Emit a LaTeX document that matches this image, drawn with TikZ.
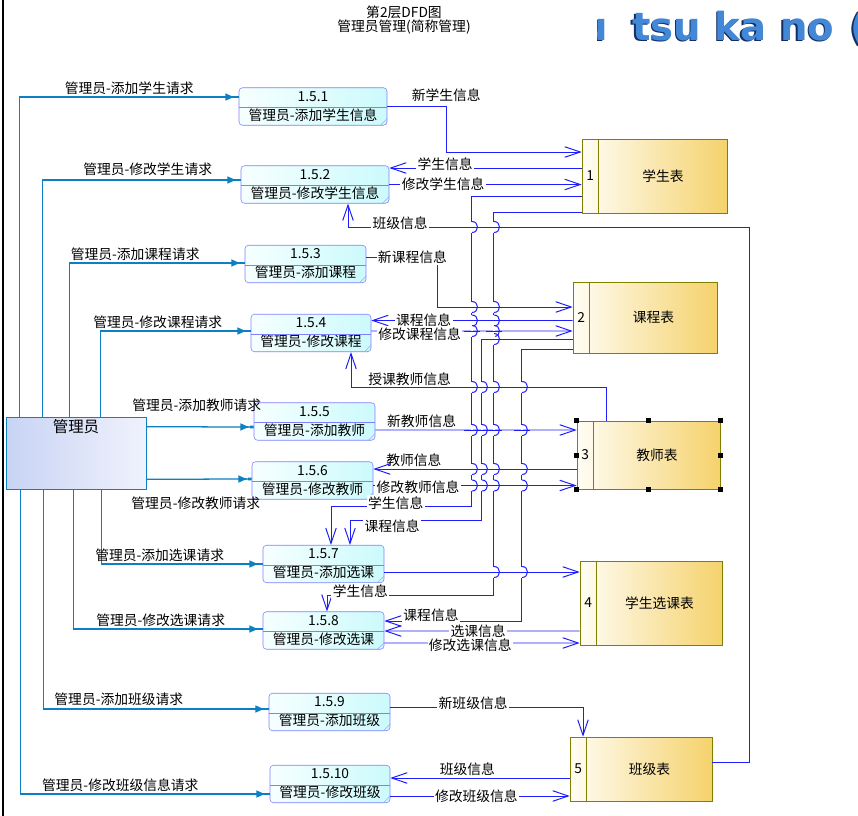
\documentclass[tikz,border=0pt]{standalone}
\usepackage{fontspec}
\setmainfont{Noto Sans CJK SC}
\newfontfamily\wmfont{DejaVu Sans}
\usetikzlibrary{arrows.meta, calc}

\definecolor{flowblue}{RGB}{30,30,250}
\definecolor{reqblue}{RGB}{12,128,194}
\definecolor{procedge}{RGB}{128,128,255}
\definecolor{proclight}{RGB}{246,255,255}
\definecolor{procdark}{RGB}{204,250,252}
\definecolor{storeedge}{RGB}{128,128,0}
\definecolor{storelight}{RGB}{255,253,244}
\definecolor{storedark}{RGB}{245,210,108}
\definecolor{admlight}{RGB}{240,242,253}
\definecolor{admdark}{RGB}{200,212,244}
\definecolor{wmblue}{RGB}{66,136,214}
\definecolor{wmshadow}{RGB}{20,45,100}

\begin{document}
\begin{tikzpicture}[x=0.025cm, y=-0.025cm,
    every node/.style={font=\fontsize{9.8pt}{11pt}\selectfont, inner sep=1pt},
    proc/.style={draw=procedge, rounded corners=2.5pt, left color=proclight, right color=procdark,
        align=center, font=\fontsize{9.8pt}{13.5pt}\selectfont, inner sep=0pt},
    store/.style={draw=storeedge, left color=storelight, right color=storedark, inner sep=0pt},
    entity/.style={draw=reqblue, left color=admdark, right color=admlight, inner sep=0pt},
    req/.style={draw=reqblue, line width=0.9pt,
        -{Latex[length=7pt,width=5.5pt]Rectangle[length=2.5pt,width=2pt]}},
    flow/.style={draw=flowblue, line width=0.7pt, -{Straight Barb[length=11pt,width=7.5pt]}},
    flowline/.style={draw=flowblue, line width=0.7pt},
    lbl/.style={fill=white, inner sep=1pt},
    wm/.style={font=\wmfont\fontsize{27.5pt}{30pt}\bfseries\selectfont, inner sep=0pt, anchor=base west},
]
\useasboundingbox (0,0) rectangle (858,816);

% frame and title
\draw[black, line width=0.8pt] (3,0) -- (3,816);
\node[align=center, font=\fontsize{9.8pt}{10pt}\selectfont] (title) at (404,20) {第2层DFD图\\管理员管理(简称管理)};

% word art
\begin{scope}
    \clip (597,0) rectangle (858,60);
    \node[wm, anchor=base east, text=wmshadow] (wmu0) at (606.5,41.5) {u};
    \node[wm, anchor=base east, text=wmblue] (wmu1) at (608,40) {u};
    \node[wm, text=wmshadow] (wm0) at (630.5,41.5) {tsu ka no};
    \node[wm, text=wmblue] (wm1) at (632,40) {tsu ka no};
    \node[wm, text=wmshadow] (wmp0) at (848.5,41.5) {(};
    \node[wm, text=wmblue] (wmp1) at (850,40) {(};
\end{scope}

% processes
\foreach \n/\x/\y/\w/\num/\txt in {
    1/313/106.5/148/1.5.1/管理员-添加学生信息,
    2/315/184.5/148/1.5.2/管理员-修改学生信息,
    3/305.5/264/121/1.5.3/管理员-添加课程,
    4/311/333/120/1.5.4/管理员-修改课程,
    5/314.5/421.5/121/1.5.5/管理员-添加教师,
    6/312.5/480.5/121/1.5.6/管理员-修改教师,
    7/323.5/564/121/1.5.7/管理员-添加选课,
    8/323.5/630.5/121/1.5.8/管理员-修改选课,
    9/329.5/712/121/1.5.9/管理员-添加班级,
    10/330/784/120/1.5.10/管理员-修改班级} {
    \node[proc, minimum width=\w*0.025cm, minimum height=37.5*0.025cm] (p\n) at (\x,\y) {\num\\\txt};
    \draw[procedge] ($(p\n.north west)!0.53!(p\n.south west)$) -- ($(p\n.north east)!0.53!(p\n.south east)$);
    \draw[procedge!70] ($(p\n.south east)+(-7,0)$) -- ($(p\n.south east)+(0,-7)$);
}

% data stores
\foreach \n/\x/\y/\w/\h/\txt in {
    1/654.5/176/145/74/学生表,
    2/645/317.5/144/71/课程表,
    3/648.5/455/143/68/教师表,
    4/651/603/142/84/学生选课表,
    5/641/769/142/64/班级表} {
    \node[store, minimum width=\w*0.025cm, minimum height=\h*0.025cm] (s\n) at (\x,\y) {};
    \draw[storeedge] ($(s\n.north west)+(17,0)$) -- ($(s\n.south west)+(17,0)$);
    \node (s\n-num) at ($(s\n.west)+(8.5,0)$) {\n};
    \node (s\n-txt) at ($(s\n.center)+(8.5,0)$) {\txt};
}
\foreach \a in {north west, north, north east, west, east, south west, south, south east}
    \fill[black] ($(s3.\a)+(-2.5,-2.5)$) rectangle ($(s3.\a)+(2.5,2.5)$);

% external entity
\node[entity, minimum width=140*0.025cm, minimum height=72*0.025cm] (adm) at (76,453) {};
\node[font=\fontsize{11pt}{12pt}\selectfont] (admtxt) at ($(adm.north)+(0,10)$) {管理员};

% requests
\draw[req] ($(adm.north west)+(14,0)$) |- node[pos=0.75, above] (r1) {管理员-添加学生请求} ($(p1.west)+(0,-9.5)$);
\draw[req] ($(adm.north west)+(37,0)$) |- node[pos=0.765, above, yshift=1.5pt] (r2) {管理员-修改学生请求} ($(p2.west)+(0,-4.5)$);
\draw[req] ($(adm.north west)+(64,0)$) |- node[pos=0.687, above] (r3) {管理员-添加课程请求} ($(p3.west)+(0,-1)$);
\draw[req] ($(adm.north west)+(95,0)$) |- node[pos=0.69, above] (r4) {管理员-修改课程请求} ($(p4.west)+(0,-2)$);
\draw[req] ($(adm.north east)+(0,10)$) -- node[pos=0.47, above, yshift=9.5pt] (r5) {管理员-添加教师请求} ($(p5.west)+(0,5.5)$);
\draw[req] ($(adm.south east)+(0,-10)$) -- node[pos=0.47, below, yshift=-11pt] (r6) {管理员-修改教师请求} ($(p6.west)+(0,-1.5)$);
\draw[req] ($(adm.south west)+(96,0)$) |- node[pos=0.68, above] (r7) {管理员-添加选课请求} (p7.west);
\draw[req] ($(adm.south west)+(68,0)$) |- node[pos=0.73, above] (r8) {管理员-修改选课请求} ($(p8.west)+(0,-1.5)$);
\draw[req] ($(adm.south west)+(38,0)$) |- node[pos=0.667, above, yshift=1pt] (r9) {管理员-添加班级请求} ($(p9.west)+(0,-3)$);
\draw[req] ($(adm.south west)+(15,0)$) |- node[pos=0.70, above] (r10) {管理员-修改班级信息请求} ($(p10.west)+(0,10)$);

% data flows
\draw[flow] (p1.east) -- node[pos=1, above, yshift=2pt] (f1) {新学生信息} ++(59,0) |- ($(s1.west)+(0,-24)$);
\draw[flow] ($(s1.west)+(0,-8)$) -- node[lbl, pos=0.71, yshift=2.5pt] (f2) {学生信息} ($(p2.east)+(0,-16.5)$);
\draw[flow] (p2.east) -- node[lbl, pos=0.28] (f3) {修改学生信息} ($(s1.west)+(0,8.5)$);
\draw[flow] ($(s5.east)+(0,-7)$) -- ++(37,0) |- node[lbl, pos=0.935, yshift=3pt] (f4) {班级信息} ($(p2.south)+(33,24)$) -- ($(p2.south)+(33,0)$);
\draw[flow] ($(p3.east)+(0,-7)$) -- node[lbl, pos=0.65] (f5) {新课程信息} ++(71,0) |- ($(s2.west)+(0,-10.5)$);
\draw[flow] ($(s2.west)+(0,3)$) -- node[lbl, pos=0.74] (f6) {课程信息} ($(p4.east)+(0,-12.5)$);
\draw[flow] ($(p4.east)+(0,-2)$) -- node[lbl, pos=0.24, yshift=-2pt] (f7) {修改课程信息} ($(s2.west)+(0,13.5)$);
\draw[flow] ($(s1.west)+(0,20)$) -- ++(-110,0) |- node[lbl, pos=0.77, yshift=3pt] (f8) {学生信息} ($(p7.north)+(7.5,-38)$) -- ($(p7.north)+(7.5,0)$);
\draw[flow] ($(s1.west)+(0,36)$) -- ++(-88,0) |- node[lbl, pos=0.9, yshift=3pt] (f9) {学生信息} ($(p8.north)+(3.5,-16)$) -- ($(p8.north)+(3.5,0)$);
\draw[flow] ($(s2.west)+(0,21.5)$) -- ++(-91,0) |- node[lbl, pos=0.84, yshift=-4pt] (f10) {课程信息} ($(p7.north)+(26.5,-24)$) -- ($(p7.north)+(26.5,0)$);
\draw[flow] ($(s2.west)+(0,31.5)$) -- ++(-51,0) |- node[lbl, pos=0.83, yshift=4pt] (f11) {课程信息} ($(p8.east)+(0,-9.5)$);
\draw[flow] ($(s3.north)+(-42.5,0)$) |- node[lbl, pos=0.885, yshift=5.5pt] (f12) {授课教师信息} ($(p4.south)+(40,35)$) -- ($(p4.south)+(40,0)$);
\draw[flow] ($(p5.east)+(0,8.5)$) -- node[above, pos=0.23] (f13) {新教师信息} ($(s3.west)+(0,-25)$);
\draw[flow] ($(s3.west)+(0,14)$) -- node[above, pos=0.8] (f14) {教师信息} ($(p6.east)+(0,-11.5)$);
\draw[flow] ($(p6.east)+(0,5)$) -- node[lbl, pos=0.22, yshift=-1.5pt] (f15) {修改教师信息} ($(s3.west)+(0,30.5)$);
\draw[flow] ($(p7.east)+(0,8)$) -- ($(s4.west)+(0,-31)$);
\draw[flow] ($(s4.west)+(0,28)$) -- node[lbl, pos=0.52] (f17) {选课信息} ($(p8.east)+(0,0.5)$);
\draw[flow] ($(p8.east)+(0,12.5)$) -- node[lbl, pos=0.44, yshift=-1.5pt] (f18) {修改选课信息} ($(s4.west)+(0,40)$);
\draw[flow] ($(p9.east)+(0,-5)$) -| node[lbl, pos=0.215, yshift=3pt] (f19) {新班级信息} ($(s5.north)+(-58,0)$);
\draw[flow] ($(s5.west)+(0,9)$) -- node[above, pos=0.57] (f20) {班级信息} ($(p10.east)+(0,-6)$);
\draw[flow] ($(p10.east)+(0,12)$) -- node[lbl, pos=0.48] (f21) {修改班级信息} ($(s5.west)+(0,27)$);

% line hops
\foreach \x/\y in {472/227, 494/227, 472/307, 494/307, 472/320.5, 494/320.5, 472/331, 494/331, 494/339,
    472/387, 482/387, 494/387, 522/387, 472/430, 482/430, 494/430, 522/430,
    472/469, 482/469, 494/469, 522/469, 472/485.5, 482/485.5, 494/485.5, 522/485.5,
    494/572, 522/572} {
    \fill[white] (\x-1.2,\y-5.5) rectangle (\x+1.2,\y+5.5);
    \draw[flowline] (\x,\y-5.5) .. controls +(7.3,0) and +(7.3,0) .. (\x,\y+5.5);
    \draw[flowline] (\x-8,\y) -- (\x+8,\y);
}
\end{tikzpicture}
\end{document}
